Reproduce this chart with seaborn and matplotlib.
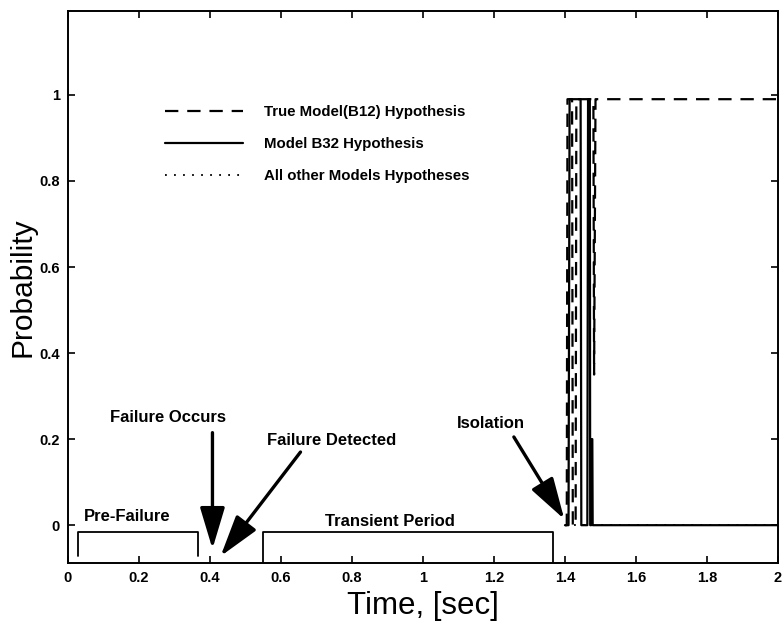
import numpy as np
import pandas as pd
import matplotlib
matplotlib.use("Agg")
import matplotlib.pyplot as plt
import seaborn as sns

# Hypothesis probabilities around the isolation instant (time in seconds)
true_time = [1.400, 1.405, 1.407, 1.420, 1.422, 1.430, 1.432, 1.445, 1.447,
             1.463, 1.465, 1.480, 1.482, 1.486, 1.488, 2.000]
true_prob = [0.00, 0.00, 0.99, 0.99, 0.00, 0.00, 0.99, 0.99, 0.99,
             0.99, 0.99, 0.99, 0.35, 0.99, 0.99, 0.99]

b32_time = [1.400, 1.410, 1.413, 1.418, 1.420, 1.444, 1.446, 1.463, 1.465,
            1.470, 1.471, 1.474, 1.475, 1.477, 1.478, 2.000]
b32_prob = [0.00, 0.00, 0.99, 0.99, 0.99, 0.99, 0.00, 0.00, 0.99,
            0.99, 0.00, 0.00, 0.20, 0.20, 0.00, 0.00]

other_time = [1.400, 2.000]
other_prob = [0.00, 0.00]

series_names = ["True Model(B12) Hypothesis", "Model B32 Hypothesis",
                "All other Models Hypotheses"]

# Phase brackets below the zero line
phase_names = ["Pre-Failure", "Transient Period"]
phase_start = [0.028, 0.549]
phase_end = [0.365, 1.366]
phase_leg_bottom = [-0.072, -0.085]
phase_text_x = [0.167, 0.908]
phase_text_y = [0.020, 0.008]

# Event call-outs: label, text position, arrow tail and tip
event_names = ["Failure Occurs", "Failure Detected", "Isolation"]
event_text_x = [0.283, 0.744, 1.190]
event_text_y = [0.250, 0.196, 0.237]
event_tail_x = [0.407, 0.655, 1.256]
event_tail_y = [0.215, 0.170, 0.205]
event_tip_x = [0.407, 0.430, 1.398]
event_tip_y = [-0.055, -0.072, 0.014]

x_ticks = [0, 0.2, 0.4, 0.6, 0.8, 1.0, 1.2, 1.4, 1.6, 1.8, 2.0]
y_ticks = [0, 0.2, 0.4, 0.6, 0.8, 1.0]

sns.set_theme(style="white")
plt.rcParams["font.family"] = ["Liberation Sans", "DejaVu Sans"]
plt.rcParams.update({"text.color": "black", "axes.labelcolor": "black",
                     "xtick.color": "black", "ytick.color": "black"})

fig = plt.figure(figsize=(7.83, 6.27), dpi=100)
ax = fig.add_axes([0.0868, 0.102, 0.9068, 0.8805])

frames = [
    pd.DataFrame({"t": true_time, "p": true_prob, "s": series_names[0]}),
    pd.DataFrame({"t": b32_time, "p": b32_prob, "s": series_names[1]}),
    pd.DataFrame({"t": other_time, "p": other_prob, "s": series_names[2]}),
]
styles = [(0, (6, 4)), "-", (0, (1, 4))]
widths = [1.6, 1.6, 1.3]
for df, ls, lw in zip(frames[::-1], styles[::-1], widths[::-1]):
    sns.lineplot(data=df, x="t", y="p", estimator=None, sort=False,
                 color="black", linestyle=ls, linewidth=lw, ax=ax, legend=False)
handles = [plt.Line2D([], [], color="black", linestyle=ls, linewidth=lw, label=name)
           for name, ls, lw in zip(series_names, styles, widths)]

leg = ax.legend(handles=handles, loc="upper left", bbox_to_anchor=(0.136, 0.830),
                frameon=False, fontsize=10.8, handlelength=5.2, handletextpad=1.45,
                labelspacing=1.2, borderpad=0, borderaxespad=0)
for txt in leg.get_texts():
    txt.set_fontweight("bold")

# Phase brackets
for name, a, b, lo, tx, ty in zip(phase_names, phase_start, phase_end,
                                  phase_leg_bottom, phase_text_x, phase_text_y):
    ax.plot([a, a, b, b], [lo, -0.017, -0.017, lo], color="black", lw=1.3)
    ax.text(tx, ty, name, ha="center", va="center", fontsize=12,
            fontweight="bold")

# Event arrows and labels
for name, tx, ty, x0, y0, bx, by in zip(event_names, event_text_x, event_text_y,
                                        event_tail_x, event_tail_y,
                                        event_tip_x, event_tip_y):
    ax.text(tx, ty, name, ha="center", va="center", fontsize=12,
            fontweight="bold")
    ax.annotate("", xy=(bx, by), xytext=(x0, y0),
                arrowprops=dict(arrowstyle="-|>,head_length=1.5,head_width=0.45",
                                mutation_scale=17, lw=2.4, color="black",
                                shrinkA=0, shrinkB=0))

ax.set_xlim(0, 2)
ax.set_ylim(-0.088, 1.195)
ax.set_xticks(x_ticks)
ax.set_yticks(y_ticks)
ax.set_xticklabels([f"{v:g}" for v in x_ticks], fontweight="bold", fontsize=10.5)
ax.set_yticklabels([f"{v:g}" for v in y_ticks], fontweight="bold", fontsize=10.5)
ax.tick_params(direction="in", length=5, width=1.2, top=True, right=True,
               bottom=True, left=True, pad=6)
ax.set_xlabel("Time, [sec]", fontsize=22.5, labelpad=4)
ax.set_ylabel("Probability", fontsize=21.5, labelpad=2)
for sp in ax.spines.values():
    sp.set_color("black")
    sp.set_linewidth(1.4)

fig.savefig("out.png", dpi=100, facecolor="white")
